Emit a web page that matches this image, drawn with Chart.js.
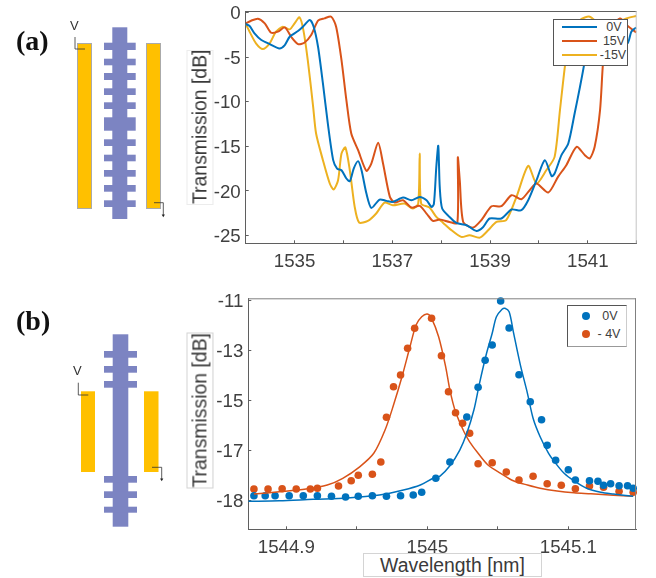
<!DOCTYPE html>
<html>
<head>
<meta charset="utf-8">
<title>Transmission spectra</title>
<script src="https://cdn.jsdelivr.net/npm/chart.js@4"></script>
<style>
html,body{margin:0;padding:0;background:#fff;width:656px;height:578px;overflow:hidden;font-family:"Liberation Sans",Arial,sans-serif}
#page{position:absolute;left:0;top:0;width:656px;height:578px;filter:blur(.4px)}
canvas{position:absolute}
.abs{position:absolute}
.panel{position:absolute;font:bold 28px "Liberation Serif",serif;color:#111;line-height:1}
.axt{position:absolute;background:#fff;border:1px solid #d4d4d4;color:#3a3a3a;font-size:19.4px;box-sizing:border-box;text-align:center;white-space:nowrap}
.leg{position:absolute;background:#fff;box-sizing:border-box;font-size:12.5px;color:#404040}
.leg span{position:absolute;white-space:nowrap;line-height:14px;transform:translate(-50%,-50%)}
.leg i{position:absolute;display:block}
svg{position:absolute;left:0;top:0}
</style>
</head>
<body>
<div id="page">
<svg width="656" height="578" id="schem">
  <defs>
    <marker id="ah" markerWidth="5" markerHeight="5" refX="2.5" refY="2.5"><path d="M0.5 0.5L2.5 4L4.5 0.5z" fill="#222"/></marker>
  </defs>
</svg>
<div class="panel" style="left:16px;top:27px">(a)</div>
<div class="panel" style="left:16px;top:307px">(b)</div>
<div class="abs" style="left:70px;top:18px;font-size:13px;color:#333">V</div>
<div class="abs" style="left:73px;top:363px;font-size:13px;color:#333">V</div>

<canvas id="chartA" width="476" height="280" style="left:180px;top:0"></canvas>
<canvas id="chartB" width="476" height="288" style="left:180px;top:290px"></canvas>

<div class="axt" style="left:186.5px;top:49.5px;width:26.5px;height:155px;border-color:#ececec;writing-mode:vertical-rl;transform:rotate(180deg);line-height:25px">Transmission [dB]</div>
<div class="axt" style="left:187px;top:333px;width:26.5px;height:155.5px;writing-mode:vertical-rl;transform:rotate(180deg);line-height:25px">Transmission [dB]</div>
<div class="axt" style="left:363px;top:553px;width:179px;height:24px;line-height:23px">Wavelength [nm]</div>

<div class="leg" style="left:553px;top:19px;width:75px;height:47px;border:1px solid #555">
  <i style="left:8px;top:6px;width:35px;height:2px;background:#0072BD"></i><span style="left:60px;top:7px">0V</span>
  <i style="left:8px;top:20px;width:35px;height:2px;background:#D95319"></i><span style="left:60px;top:21px">15V</span>
  <i style="left:8px;top:34px;width:35px;height:2px;background:#EDB120"></i><span style="left:59px;top:35px">-15V</span>
</div>
<div class="leg" style="left:567px;top:305px;width:60px;height:42px;border:1px solid #555;border-right-color:#ccc;border-bottom-color:#999">
  <i style="left:14px;top:6px;width:8px;height:8px;border-radius:50%;background:#0072BD"></i><span style="left:42px;top:10px">0V</span>
  <i style="left:14px;top:24px;width:8px;height:8px;border-radius:50%;background:#D95319"></i><span style="left:41px;top:28px">- 4V</span>
</div>
</div>

<script>
/* Panel (a): [wavelength nm, transmission dB] */
const a0V = [[1534,-1.29],[1534.08,-1.52],[1534.18,-2.34],[1534.32,-3.09],[1534.49,-3.54],[1534.69,-4.03],[1534.8,-3.65],[1534.9,-2.72],[1535.07,-2.08],[1535.17,-1.59],[1535.31,-0.84],[1535.39,-1.59],[1535.48,-3.84],[1535.58,-7.96],[1535.68,-12.45],[1535.79,-16.57],[1535.87,-17.51],[1535.96,-17.7],[1536.06,-18.63],[1536.13,-18.93],[1536.21,-17.51],[1536.3,-16.68],[1536.37,-17.7],[1536.47,-20.32],[1536.57,-21.93],[1536.74,-20.99],[1536.88,-21.14],[1537.01,-21.25],[1537.22,-20.77],[1537.39,-21.07],[1537.56,-20.69],[1537.7,-21.07],[1537.8,-21.81],[1537.85,-21.51],[1537.9,-17.32],[1537.94,-14.96],[1537.97,-19.57],[1538.02,-22],[1538.17,-22.94],[1538.31,-23.61],[1538.52,-23.87],[1538.72,-24.51],[1538.86,-24.06],[1538.99,-23.12],[1539.23,-23.12],[1539.44,-22.11],[1539.64,-22.19],[1539.78,-21.07],[1539.95,-18.82],[1540.12,-16.57],[1540.26,-18.37],[1540.32,-18.07],[1540.46,-16.01],[1540.6,-14.7],[1540.73,-11.33],[1540.84,-8.33],[1540.94,-5.34],[1541.01,-2.34],[1541.2,-2],[1541.6,-2.2],[1541.81,-3.46],[1541.89,-2.15],[1541.99,-1.67]];
const a15V = [[1534,-1.22],[1534.11,-0.92],[1534.25,-0.69],[1534.39,-1.22],[1534.52,-2.27],[1534.66,-2.15],[1534.8,-1.67],[1534.93,-2.72],[1535.07,-3.54],[1535.2,-3.39],[1535.34,-2.53],[1535.48,-0.92],[1535.61,-0.66],[1535.75,-0.47],[1535.85,-1.59],[1535.96,-5.34],[1536.06,-9.83],[1536.16,-13.58],[1536.3,-15.45],[1536.47,-17.77],[1536.57,-16.95],[1536.71,-14.62],[1536.81,-16.95],[1536.95,-20.69],[1537.05,-21.33],[1537.22,-21.07],[1537.39,-21.89],[1537.56,-21.7],[1537.7,-22.56],[1537.83,-23.39],[1537.97,-23.24],[1538.17,-23.5],[1538.33,-23.61],[1538.34,-16.27],[1538.38,-18.82],[1538.45,-23.5],[1538.65,-24.14],[1538.82,-23.31],[1539.03,-21.74],[1539.23,-21.74],[1539.44,-20.5],[1539.64,-20.95],[1539.81,-19.94],[1539.95,-19.19],[1540.19,-20.2],[1540.39,-18.44],[1540.56,-17.13],[1540.77,-15.07],[1540.94,-16.01],[1541.04,-16.38],[1541.14,-15.07],[1541.25,-10.95],[1541.31,-5.71],[1541.38,-2.34],[1541.66,-0.66],[1541.79,-1.4],[1541.99,-2.23]];
const aNeg15V = [[1534,-1.29],[1534.08,-2.15],[1534.21,-3.46],[1534.35,-4.1],[1534.49,-3.46],[1534.62,-2.15],[1534.76,-1.59],[1534.9,-1.89],[1535,-1.22],[1535.1,-0.54],[1535.18,-1.97],[1535.27,-5.34],[1535.38,-10.58],[1535.44,-13.58],[1535.58,-16.57],[1535.72,-19.19],[1535.8,-19.87],[1535.89,-18.82],[1535.96,-15.82],[1536.04,-15.15],[1536.13,-17.7],[1536.23,-21.81],[1536.32,-23.57],[1536.5,-23.39],[1536.67,-22.56],[1536.84,-21.33],[1537.01,-21.63],[1537.25,-21.44],[1537.42,-22],[1537.53,-21.44],[1537.56,-15.82],[1537.59,-21.44],[1537.76,-21.89],[1537.9,-22.94],[1538.04,-23.61],[1538.17,-24.25],[1538.41,-25.18],[1538.58,-25],[1538.79,-25.26],[1538.96,-24.44],[1539.13,-23.5],[1539.33,-23.31],[1539.54,-20.69],[1539.78,-17.21],[1539.95,-19.19],[1540.15,-17.7],[1540.32,-16.2],[1540.43,-10.95],[1540.53,-6.09],[1540.63,-2.34],[1540.84,-0.84],[1541.04,-0.47],[1541.31,-1.6],[1541.79,-0.66],[1541.99,-0.39]];
const aXTicks = [1534,1535,1536,1537,1538,1539,1540,1541,1542];
const aXLabels = ['','1535','','1537','','1539','','1541',''];
const aYTicks = [0,-5,-10,-15,-20,-25];
const aYLabels = ['0','-5','-10','-15','-20','-25'];

/* Panel (b): measured dots and fitted curves */
const b0VDots = [[1544.877,-18.83],[1544.885,-18.83],[1544.892,-18.83],[1544.902,-18.83],[1544.912,-18.83],[1544.922,-18.83],[1544.932,-18.85],[1544.942,-18.88],[1544.951,-18.85],[1544.961,-18.83],[1544.971,-18.85],[1544.981,-18.83],[1544.99,-18.8],[1544.996,-18.69],[1545.006,-18.13],[1545.016,-17.48],[1545.028,-15.68],[1545.036,-14.49],[1545.041,-13.41],[1545.046,-12.8],[1545.052,-11.04],[1545.058,-12.12],[1545.065,-13.99],[1545.073,-15.07],[1545.081,-15.79],[1545.085,-16.81],[1545.091,-17.41],[1545.1,-17.79],[1545.105,-18.2],[1545.115,-18.23],[1545.121,-18.25],[1545.125,-18.41],[1545.13,-18.35],[1545.136,-18.43],[1545.142,-18.43],[1545.146,-18.53]];
const bNeg4VDots = [[1544.877,-18.56],[1544.887,-18.56],[1544.897,-18.55],[1544.907,-18.56],[1544.917,-18.56],[1544.922,-18.53],[1544.937,-18.44],[1544.946,-18.23],[1544.951,-18.01],[1544.961,-17.97],[1544.967,-17.48],[1544.971,-15.69],[1544.976,-14.47],[1544.981,-14],[1544.986,-12.93],[1544.991,-12.13],[1545.003,-11.73],[1545.01,-13.23],[1545.015,-14.67],[1545.02,-15.51],[1545.025,-15.93],[1545.03,-16.33],[1545.036,-17.55],[1545.046,-17.51],[1545.056,-17.88],[1545.065,-18.2],[1545.075,-18.05],[1545.085,-18.35],[1545.095,-18.41],[1545.105,-18.55],[1545.115,-18.44],[1545.125,-18.49],[1545.136,-18.65],[1545.146,-18.69]];
const b0VFit = [[1544.873,-19.05],[1544.895,-19.03],[1544.919,-18.97],[1544.943,-18.92],[1544.966,-18.8],[1544.983,-18.6],[1544.995,-18.4],[1545.004,-18.13],[1545.009,-18.04],[1545.016,-17.63],[1545.023,-17],[1545.028,-16.33],[1545.033,-15.4],[1545.037,-14.33],[1545.042,-13.13],[1545.046,-12.33],[1545.049,-11.67],[1545.053,-11.37],[1545.055,-11.33],[1545.058,-11.47],[1545.061,-12.27],[1545.066,-13.6],[1545.071,-14.73],[1545.075,-15.73],[1545.08,-16.47],[1545.086,-17.13],[1545.091,-17.53],[1545.097,-17.93],[1545.104,-18.23],[1545.113,-18.53],[1545.123,-18.69],[1545.132,-18.76],[1545.146,-18.85]];
const bNeg4VFit = [[1544.877,-18.76],[1544.895,-18.67],[1544.914,-18.56],[1544.929,-18.4],[1544.94,-18.13],[1544.952,-17.67],[1544.962,-17.13],[1544.97,-16.2],[1544.976,-15.2],[1544.982,-14.07],[1544.988,-12.8],[1544.992,-12],[1544.996,-11.67],[1545,-11.56],[1545.003,-11.73],[1545.008,-12.47],[1545.013,-13.67],[1545.016,-14.6],[1545.02,-15.47],[1545.026,-16.27],[1545.03,-16.67],[1545.036,-17.13],[1545.043,-17.6],[1545.052,-17.93],[1545.061,-18.23],[1545.071,-18.4],[1545.08,-18.53],[1545.092,-18.64],[1545.104,-18.71],[1545.116,-18.75],[1545.132,-18.81],[1545.146,-18.85]];
const bXTicks = [1544.9,1544.95,1545,1545.05,1545.1];
const bXLabels = ['1544.9','','1545','','1545.1'];
const bYTicks = [-11,-13,-15,-17,-19];
const bYLabels = ['-11','-13','-15','-17','-18'];

const BLUE='#0072BD', RED='#D95319', GOLD='#EDB120', INK='#404040', FRAME='#5f5f5f';
const pts = arr => arr.map(p => ({x:p[0], y:p[1]}));

const framePlugin = {
  id:'frame',
  afterDatasetsDraw(c,_,o){
    const a=c.chartArea, x=c.ctx;
    x.save(); x.lineWidth=1;
    x.strokeStyle=o.top; x.beginPath(); x.moveTo(a.left,a.top+.5); x.lineTo(a.right,a.top+.5); x.stroke();
    x.strokeStyle=o.right; x.beginPath(); x.moveTo(a.right-.5,a.top); x.lineTo(a.right-.5,a.bottom); x.stroke();
    x.restore();
  }
};
const noPad = s => { s.paddingTop=0; s.paddingBottom=0; s.paddingLeft=0; s.paddingRight=0; };

function makeScales(xMin,xMax,yMin,yMax,xT,xL,yT,yL,leftW,botH){
  return {
    x:{type:'linear',min:xMin,max:xMax,
      afterBuildTicks:s=>{s.ticks=xT.map(v=>({value:v}));},
      afterFit:s=>{s.height=botH; noPad(s);},
      grid:{drawOnChartArea:false,drawTicks:true,tickLength:-3,color:FRAME},
      border:{display:true,color:FRAME,width:1},
      ticks:{autoSkip:false,maxRotation:0,padding:10,color:INK,font:{family:'"Liberation Sans"',size:18.7},callback:(v,i)=>xL[i]}},
    y:{type:'linear',min:yMin,max:yMax,
      afterBuildTicks:s=>{s.ticks=yT.map(v=>({value:v}));},
      afterFit:s=>{s.width=leftW; noPad(s);},
      grid:{drawOnChartArea:false,drawTicks:true,tickLength:-3,color:FRAME},
      border:{display:true,color:FRAME,width:1},
      ticks:{autoSkip:false,padding:8,labelOffset:1.7,color:INK,font:{family:'"Liberation Sans"',size:18.7},callback:function(v,i){return yL[i];}}}
  };
}
const baseOpts = {responsive:false,animation:false,events:[]};

new Chart(document.getElementById('chartA'),{
  type:'line',
  data:{datasets:[
    {label:'0V',data:pts(a0V),borderColor:BLUE},
    {label:'15V',data:pts(a15V),borderColor:RED},
    {label:'-15V',data:pts(aNeg15V),borderColor:GOLD}
  ].map(d=>Object.assign(d,{borderWidth:2,pointRadius:0,fill:false,tension:0.25}))},
  options:Object.assign({},baseOpts,{
    layout:{autoPadding:false,padding:{left:0,top:11,right:19.3,bottom:0}},
    scales:makeScales(1534,1542,-25.9,0.17,aXTicks,aXLabels,aYTicks,aYLabels,65.7,36.7),
    plugins:{legend:{display:false},tooltip:{enabled:false},frame:{top:'#5f5f5f',right:'#c4c4c4'}}
  }),
  plugins:[framePlugin]
});

new Chart(document.getElementById('chartB'),{
  type:'line',
  data:{datasets:[
    {label:'0V fit',data:pts(b0VFit),borderColor:BLUE,borderWidth:1.5,pointRadius:0,tension:0.3},
    {label:'-4V fit',data:pts(bNeg4VFit),borderColor:RED,borderWidth:1.5,pointRadius:0,tension:0.3},
    {label:'0V',data:pts(b0VDots),showLine:false,pointRadius:3.8,pointBackgroundColor:BLUE,pointBorderWidth:0,clip:false},
    {label:'- 4V',data:pts(bNeg4VDots),showLine:false,pointRadius:3.8,pointBackgroundColor:RED,pointBorderWidth:0,clip:false}
  ]},
  options:Object.assign({},baseOpts,{
    layout:{autoPadding:false,padding:{left:0,top:8.3,right:20,bottom:0}},
    scales:makeScales(1544.873,1545.148,-20.17,-10.93,bXTicks,bXLabels,bYTicks,bYLabels,68.3,48.7),
    plugins:{legend:{display:false},tooltip:{enabled:false},frame:{top:'#808080',right:'#808080'}}
  }),
  plugins:[framePlugin]
});

/* Device schematics (not data) */
const NS='http://www.w3.org/2000/svg', svg=document.getElementById('schem');
function el(tag,attrs){const e=document.createElementNS(NS,tag);for(const k in attrs)e.setAttribute(k,attrs[k]);svg.appendChild(e);return e;}
const TOOTH='#7C84C2', PAD='#FFC000';
function device(spine,toothX,toothW,teeth){
  el('rect',{x:spine[0],y:spine[1],width:spine[2],height:spine[3],fill:TOOTH});
  teeth.forEach(t=>el('rect',{x:toothX,y:t[0],width:toothW,height:t[1]-t[0],fill:TOOTH}));
}
device([112.3,27.3,15,191.7],104,31.7,[[42.7,50],[58.7,65.3],[73,80],[88.3,95],[102.3,109],[117.3,130.7],[139.3,146],[154.7,161.3],[170,176.7],[185,191.7],[200.3,207]]);
el('rect',{x:77.5,y:43.5,width:14,height:165,fill:PAD,stroke:'#aaa'});
el('rect',{x:146.5,y:43.5,width:14,height:165,fill:PAD,stroke:'#aaa'});
el('path',{d:'M75 37V49H85',fill:'none',stroke:'#333','stroke-width':.8});
el('path',{d:'M154 202.7H163.3V216',fill:'none',stroke:'#333','stroke-width':.8,'marker-end':'url(#ah)'});

device([112.7,334.3,15.6,192.4],104,33,[[351,357.7],[366,372.7],[381,387.7],[476,482.7],[491.3,498],[506.7,512.7]]);
el('rect',{x:81,y:391.3,width:14,height:80.7,fill:PAD});
el('rect',{x:144,y:391.3,width:14.5,height:80.7,fill:PAD});
el('path',{d:'M78.3 382.7V395H88.3',fill:'none',stroke:'#333','stroke-width':.8});
el('path',{d:'M152 467.3H161.7V480',fill:'none',stroke:'#333','stroke-width':.8,'marker-end':'url(#ah)'});
</script>
</body>
</html>
